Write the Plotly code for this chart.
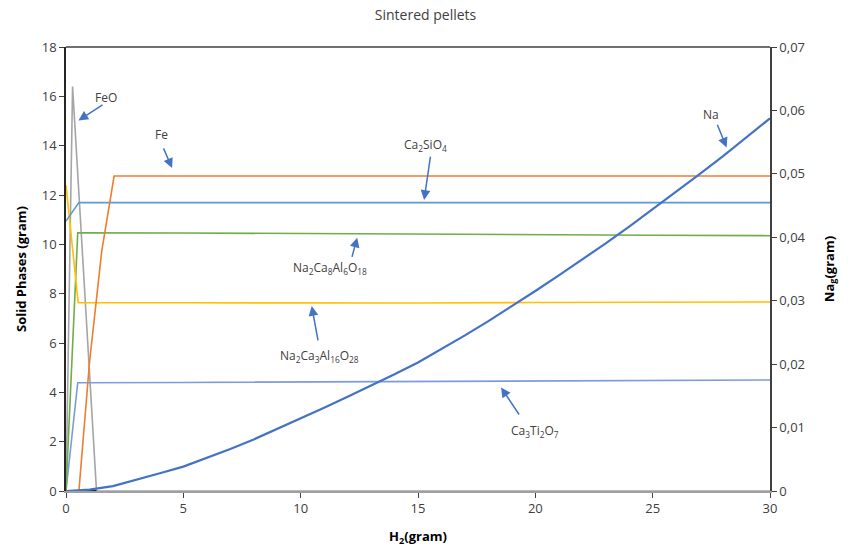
import plotly.graph_objects as go

# ---------------- data ----------------
feo_x = [0, 0.28, 1.3, 5, 10, 15, 20, 25, 30]
feo_y = [0, 16.4, 0, 0, 0, 0, 0, 0, 0]

fe_x = [0.55, 1.0, 1.52, 2.05, 5, 10, 15, 20, 25, 30]
fe_y = [0, 5.2, 9.7, 12.77, 12.77, 12.77, 12.77, 12.77, 12.77, 12.77]

ca2sio4_x = [0, 0.55, 5, 10, 15, 20, 25, 30]
ca2sio4_y = [10.94, 11.69, 11.69, 11.69, 11.69, 11.69, 11.69, 11.69]

na2ca8_x = [0, 0.5, 5, 10, 15, 20, 25, 30]
na2ca8_y = [0, 10.47, 10.46, 10.43, 10.41, 10.39, 10.37, 10.35]

na2ca3_x = [0, 0.52, 5, 10, 15, 20, 25, 30]
na2ca3_y = [12.4, 7.63, 7.63, 7.62, 7.62, 7.64, 7.64, 7.66]

ca3ti2o7_x = [0, 0.5, 5, 10, 15, 20, 25, 30]
ca3ti2o7_y = [0, 4.39, 4.40, 4.42, 4.44, 4.46, 4.48, 4.50]

minor_x = [0.25, 1.3]
minor_y = [0, 0]

na_x = [0, 0.5, 1, 2, 3, 4, 5, 6, 7, 8, 9, 10, 11, 12, 13, 14, 15, 16,
        17, 18, 19, 20, 21, 22, 23, 24, 25, 26, 27, 28, 29, 30]
na_y = [0, 0.00008, 0.00023, 0.00078, 0.00175, 0.0028, 0.00385, 0.00517,
        0.00661, 0.00813, 0.00976, 0.01147, 0.01314, 0.01486, 0.01661,
        0.01839, 0.02026, 0.02236, 0.02454, 0.02679, 0.02913, 0.03154,
        0.03399, 0.03648, 0.03904, 0.04169, 0.04441, 0.04717, 0.04997,
        0.05281, 0.05577, 0.05876]

x_ticks = [0, 5, 10, 15, 20, 25, 30]
y_ticks = [0, 2, 4, 6, 8, 10, 12, 14, 16, 18]
y2_ticks = [0, 0.01, 0.02, 0.03, 0.04, 0.05, 0.06, 0.07]
y2_labels = ["0", "0,01", "0,02", "0,03", "0,04", "0,05", "0,06", "0,07"]

# annotations: (text, text_x, text_y, tail_x, tail_y, head_x, head_y)
labels = [
    ("FeO", 1.70, 15.97, 1.62, 15.69, 0.53, 15.02),
    ("Fe", 4.05, 14.47, 4.13, 13.95, 4.52, 13.09),
    ("Ca<sub>2</sub>SiO<sub>4</sub>", 15.3, 14.03, 15.54, 13.62, 15.26, 11.8),
    ("Na<sub>2</sub>Ca<sub>8</sub>Al<sub>6</sub>O<sub>18</sub>", 11.25, 9.04, 12.17, 9.43, 12.41, 10.27),
    ("Na<sub>2</sub>Ca<sub>3</sub>Al<sub>16</sub>O<sub>28</sub>", 10.82, 5.47, 10.75, 6.05, 10.47, 7.5),
    ("Ca<sub>3</sub>Ti<sub>2</sub>O<sub>7</sub>", 19.99, 2.43, 19.35, 3.04, 18.54, 4.2),
    ("Na", 27.49, 15.28, 27.73, 14.91, 28.15, 13.93),
]

FONT = "Open Sans"
TXT = "#404040"

fig = go.Figure()

def add(x, y, color, width=1.6, yaxis="y"):
    fig.add_trace(go.Scatter(x=x, y=y, mode="lines", yaxis=yaxis,
                             line=dict(color=color, width=width),
                             showlegend=False, hoverinfo="skip"))

add(feo_x, feo_y, "#A5A5A5")
add(minor_x, minor_y, "#262626", 2)
add(ca3ti2o7_x, ca3ti2o7_y, "#7B9BE0")
add(na2ca8_x, na2ca8_y, "#70AD47")
add(na2ca3_x, na2ca3_y, "#FFC000")
add(ca2sio4_x, ca2sio4_y, "#5B9BD5")
add(fe_x, fe_y, "#ED7D31")
add(na_x, na_y, "#4472C4", 2.2, "y2")

annotations = []
for t, tx, ty, ax_, ay_, hx, hy in labels:
    annotations.append(dict(x=tx, y=ty, xref="x", yref="y", text=t,
                            showarrow=False,
                            font=dict(family=FONT, size=12, color=TXT)))
    annotations.append(dict(x=hx, y=hy, xref="x", yref="y",
                            ax=ax_, ay=ay_, axref="x", ayref="y",
                            text="", showarrow=True, arrowhead=2,
                            arrowsize=1.3, arrowwidth=1.5,
                            arrowcolor="#4472C4"))

fig.update_layout(
    width=851, height=549,
    margin=dict(l=66, r=81, t=47, b=58),
    paper_bgcolor="white", plot_bgcolor="white",
    title=dict(text="Sintered pellets", x=0.5, xanchor="center",
               y=1 - 15 / 549, yanchor="middle", yref="container",
               font=dict(family=FONT, size=14, color="#404040")),
    font=dict(family=FONT, size=13, color=TXT),
    xaxis=dict(range=[0, 30], tickvals=x_ticks, showgrid=False,
               automargin=False,
               zeroline=False, showline=True, linecolor="#A0A0A0",
               linewidth=1.5, ticks="outside", ticklen=5,
               tickcolor="#404040",
               tickfont=dict(family=FONT, size=13, color=TXT),
               title=dict(text="<b>H<sub>2</sub>(gram)</b>", standoff=16,
                          font=dict(family=FONT, size=13, color="#000"))),
    yaxis=dict(range=[0, 18], tickvals=y_ticks, showgrid=False,
               automargin=False,
               zeroline=False, showline=True, linecolor="#262626",
               linewidth=1.5, ticks="outside", ticklen=5,
               tickcolor="#404040",
               tickfont=dict(family=FONT, size=13, color=TXT),
               title=dict(text="<b>Solid Phases (gram)</b>", standoff=12,
                          font=dict(family=FONT, size=13, color="#000"))),
    yaxis2=dict(range=[0, 0.07], tickvals=y2_ticks, ticktext=y2_labels,
                overlaying="y", side="right", showgrid=False,
                automargin=False,
                zeroline=False, showline=True, linecolor="#404040",
                linewidth=1.5, ticks="outside", ticklen=5,
                tickcolor="#404040",
                tickfont=dict(family=FONT, size=13, color=TXT),
                title=dict(text="<b>Na<sub>g</sub>(gram)</b>", standoff=20,
                           font=dict(family=FONT, size=13, color="#000"))),
    annotations=annotations,
    shapes=[dict(type="line", xref="paper", yref="paper", x0=0, x1=1,
                 y0=1, y1=1, line=dict(color="#404040", width=1.5))],
)

fig.write_html("out.html")
